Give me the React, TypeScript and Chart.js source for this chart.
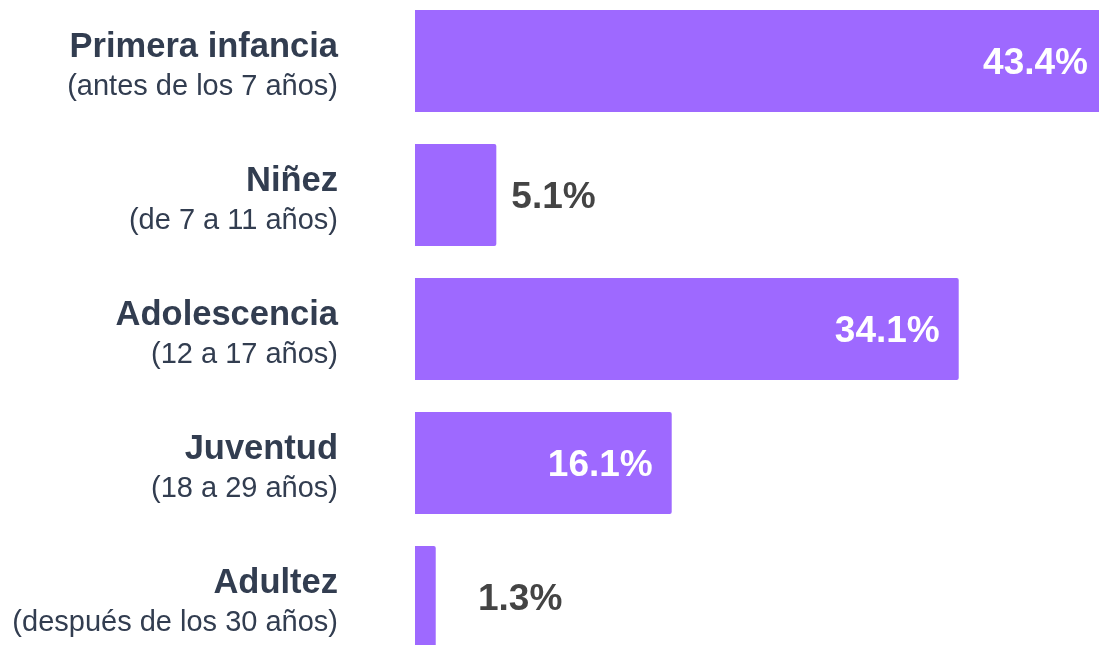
import React, { useEffect, useRef } from "react";
import { Chart, registerables } from "chart.js";

Chart.register(...registerables);

const categories = ["Primera infancia", "Niñez", "Adolescencia", "Juventud", "Adultez"];
const subtitles = [
  "(antes de los 7 años)",
  "(de 7 a 11 años)",
  "(12 a 17 años)",
  "(18 a 29 años)",
  "(después de los 30 años)",
];
const values = [43.4, 5.1, 34.1, 16.1, 1.3];
const valueLabels = ["43.4%", "5.1%", "34.1%", "16.1%", "1.3%"];

const FONT = "'Liberation Sans', Arial, Helvetica, sans-serif";
const BAR_COLOR = "rgb(158,105,255)";
const LABEL_COLOR = "#323d50";
const VALUE_DARK = "#444444";

const labelsPlugin = {
  id: "customLabels",
  afterDatasetsDraw(chart: any) {
    const ctx = chart.ctx;
    const meta = chart.getDatasetMeta(0);
    ctx.save();
    meta.data.forEach((bar: any, i: number) => {
      const y = bar.y;
      // category labels on the left
      ctx.fillStyle = LABEL_COLOR;
      ctx.textAlign = "right";
      ctx.textBaseline = "alphabetic";
      ctx.font = `bold 34.5px ${FONT}`;
      ctx.fillText(categories[i], 338, y - 4);
      ctx.font = `29px ${FONT}`;
      ctx.fillText(subtitles[i], 338, y + 34);
      // value labels
      ctx.font = `bold 37px ${FONT}`;
      const v = values[i];
      if (v >= 10) {
        ctx.fillStyle = "#ffffff";
        ctx.textAlign = "right";
        ctx.fillText(valueLabels[i], bar.x - 19, y + 13);
      } else {
        ctx.fillStyle = VALUE_DARK;
        ctx.textAlign = "left";
        const x = Math.max(bar.x + 15, bar.base + 63);
        ctx.fillText(valueLabels[i], x, y + 13);
      }
    });
    ctx.restore();
  },
};

export default function App() {
  const canvasRef = useRef<HTMLCanvasElement | null>(null);

  useEffect(() => {
    if (!canvasRef.current) return;
    const chart = new Chart(canvasRef.current, {
      type: "bar",
      data: {
        labels: categories,
        datasets: [
          {
            data: values,
            backgroundColor: BAR_COLOR,
            borderWidth: 0,
            borderRadius: 2,
            borderSkipped: "start",
            barPercentage: 0.76,
            categoryPercentage: 1,
          },
        ],
      },
      options: {
        indexAxis: "y",
        animation: false,
        responsive: true,
        maintainAspectRatio: false,
        layout: { padding: { left: 415, right: 0, top: 0, bottom: 0 } },
        plugins: {
          legend: { display: false },
          tooltip: { enabled: false },
        },
        scales: {
          x: { display: false, min: 0, max: 43.4 },
          y: { display: false },
        },
      },
      plugins: [labelsPlugin],
    });
    return () => chart.destroy();
  }, []);

  return (
    <div
      style={{
        position: "fixed",
        left: 0,
        top: 0,
        width: 1099,
        height: 645,
        overflow: "hidden",
        background: "#ffffff",
      }}
    >
      <div style={{ position: "absolute", left: 0, top: -6, width: 1107, height: 670 }}>
        <canvas ref={canvasRef} />
      </div>
    </div>
  );
}
